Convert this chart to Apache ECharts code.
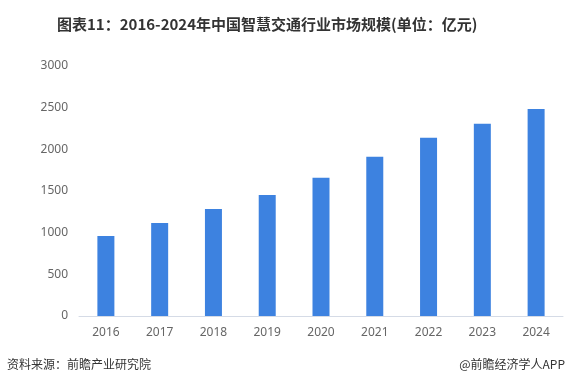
<!DOCTYPE html>
<html><head><meta charset="utf-8">
<script src="https://cdn.jsdelivr.net/npm/echarts@6/dist/echarts.min.js"></script>
<style>html,body{margin:0;padding:0;background:#fff}#c{width:566px;height:386px}</style>
</head><body><div id="c"></div>
<script>
const categories = ['2016','2017','2018','2019','2020','2021','2022','2023','2024'];
const values = [960, 1116, 1284, 1452, 1660, 1912, 2140, 2308, 2484];
const titleText = '图表11：2016-2024年中国智慧交通行业市场规模(单位：亿元)';
const sourceText = '资料来源：前瞻产业研究院';
const brandText = '@前瞻经济学人APP';

const chart = echarts.init(document.getElementById('c'), null, {renderer:'canvas'});
chart.setOption({
  animation:false,
  backgroundColor:'#fff',
  title:{text:titleText,left:52,top:12,
    textStyle:{fontSize:15,fontWeight:'bold',color:'#333',fontFamily:'Noto Sans CJK SC'}},
  graphic:[
    {type:'text',left:7,top:358,style:{text:sourceText,fontSize:12,fill:'#333',fontFamily:'Noto Sans CJK SC'}},
    {type:'text',right:1,top:358,style:{text:brandText,fontSize:12,fill:'#333',fontFamily:'Noto Sans CJK SC'}}
  ],
  grid:{left:79,right:3,top:66,bottom:70,containLabel:false},
  xAxis:{type:'category',data:categories,
    axisLine:{lineStyle:{color:'#d5dbe6'}},axisTick:{show:false},
    axisLabel:{color:'#666',fontSize:12,margin:11,fontFamily:'Noto Sans'}},
  yAxis:{type:'value',min:0,max:3000,interval:500,
    axisLine:{show:false},axisTick:{show:false},splitLine:{show:false},
    axisLabel:{color:'#666',fontSize:12,margin:11,fontFamily:'Noto Sans',formatter:v=>String(v)}},
  series:[{type:'bar',data:values,barWidth:17,itemStyle:{color:'#3d82e0'}}]
});
</script></body></html>
